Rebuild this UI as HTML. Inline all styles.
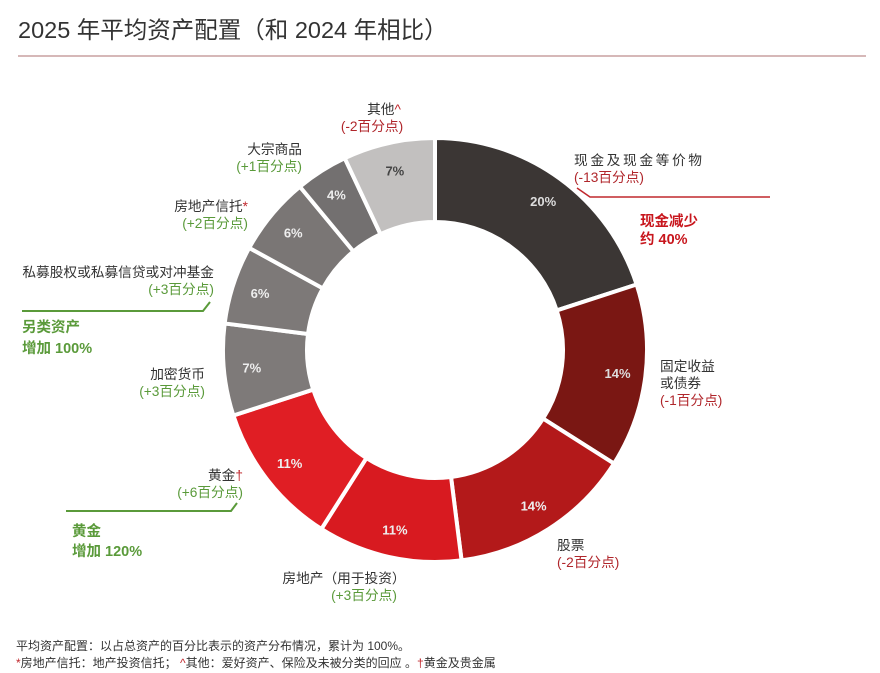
<!DOCTYPE html>
<html><head><meta charset="utf-8"><style>
body{margin:0;background:#fff;}
svg{display:block;font-family:"Liberation Sans","Noto Sans CJK SC",sans-serif;}
</style></head><body>
<svg id="s" width="880" height="673" viewBox="0 0 880 673">
<text x="18" y="38" font-size="23.5" fill="#333">2025 年平均资产配置（和 2024 年相比）</text>
<line x1="18" y1="56" x2="866" y2="56" stroke="#c8a0a0" stroke-width="1.5"/>
<g id="d"></g>
<g font-size="13.7" fill="#333">
<text x="384" y="114" text-anchor="middle">其他<tspan fill="#c0282d">^</tspan></text>
<text x="372" y="131" text-anchor="middle" fill="#b0262b">(-2百分点)</text>
<text x="302" y="154" text-anchor="end">大宗商品</text>
<text x="302" y="171" text-anchor="end" fill="#5a9a3a">(+1百分点)</text>
<text x="248" y="211" text-anchor="end">房地产信托<tspan fill="#c0282d">*</tspan></text>
<text x="248" y="228" text-anchor="end" fill="#5a9a3a">(+2百分点)</text>
<text x="214" y="277" text-anchor="end">私募股权或私募信贷或对冲基金</text>
<text x="214" y="294" text-anchor="end" fill="#5a9a3a">(+3百分点)</text>
<text x="205" y="379" text-anchor="end">加密货币</text>
<text x="205" y="396" text-anchor="end" fill="#5a9a3a">(+3百分点)</text>
<text x="243" y="480" text-anchor="end">黄金<tspan fill="#c0282d">†</tspan></text>
<text x="243" y="497" text-anchor="end" fill="#5a9a3a">(+6百分点)</text>
<text x="574" y="165" textLength="128">现金及现金等价物</text>
<text x="574" y="182" fill="#b0262b">(-13百分点)</text>
<text x="660" y="371">固定收益</text>
<text x="660" y="388">或债券</text>
<text x="660" y="405" fill="#b0262b">(-1百分点)</text>
<text x="557" y="550">股票</text>
<text x="557" y="567" fill="#b0262b">(-2百分点)</text>
<text x="344" y="583" text-anchor="middle">房地产（用于投资）</text>
<text x="364" y="600" text-anchor="middle" fill="#5a9a3a">(+3百分点)</text>
</g>
<g font-size="14.5" font-weight="bold">
<text x="640" y="226" fill="#c8161d">现金减少</text>
<text x="640" y="244" fill="#c8161d">约 40%</text>
<text x="22" y="332" fill="#5a9a3a">另类资产</text>
<text x="22" y="353" fill="#5a9a3a">增加 100%</text>
<text x="72" y="536" fill="#5a9a3a">黄金</text>
<text x="72" y="556" fill="#5a9a3a">增加 120%</text>
</g>
<polyline points="577,188 590,197 770,197" fill="none" stroke="#c0282d" stroke-width="1.5"/>
<polyline points="22,311 203,311 210,302" fill="none" stroke="#5a9a3a" stroke-width="2"/>
<polyline points="66,511 231,511 237,503" fill="none" stroke="#5a9a3a" stroke-width="2"/>
<g font-size="12" fill="#333">
<text x="16" y="650">平均资产配置：以占总资产的百分比表示的资产分布情况，累计为 100%。</text>
<text x="16" y="667"><tspan fill="#c0282d">*</tspan>房地产信托：地产投资信托； <tspan fill="#c0282d">^</tspan>其他：爱好资产、保险及未被分类的回应 。<tspan fill="#c0282d">†</tspan>黄金及贵金属</text>
</g>
</svg>
<script>
var cx=435,cy=350,R=212,r=128;
var data=[[20,"#3b3634","#ddd"],[14,"#7a1713","#ddd"],[14,"#b3191a","#eee"],[11,"#d81a20","#eee"],[11,"#e01e24","#eee"],[7,"#7e7a79","#eee"],[6,"#7d7978","#eee"],[6,"#7a7675","#eee"],[4,"#737070","#eee"],[7,"#c2c0bf","#444"]];
var g=document.getElementById("d"),a=0,h="";
function p(rad,ang){var t=(ang-90)*Math.PI/180;return (cx+rad*Math.cos(t)).toFixed(2)+","+(cy+rad*Math.sin(t)).toFixed(2);}
data.forEach(function(d){var a2=a+d[0]*3.6,lg=(a2-a)>180?1:0;
h+='<path d="M'+p(R,a)+' A'+R+','+R+' 0 '+lg+' 1 '+p(R,a2)+' L'+p(r,a2)+' A'+r+','+r+' 0 '+lg+' 0 '+p(r,a)+' Z" fill="'+d[1]+'" stroke="#fff" stroke-width="4"/>';
var m=(a+a2)/2,q=p(R-28,m).split(",");
h+='<text x="'+q[0]+'" y="'+(+q[1]+5)+'" text-anchor="middle" font-size="13" font-weight="bold" fill="'+d[2]+'">'+d[0]+'%</text>';
a=a2;});
g.innerHTML=h;
</script>
</body></html>
